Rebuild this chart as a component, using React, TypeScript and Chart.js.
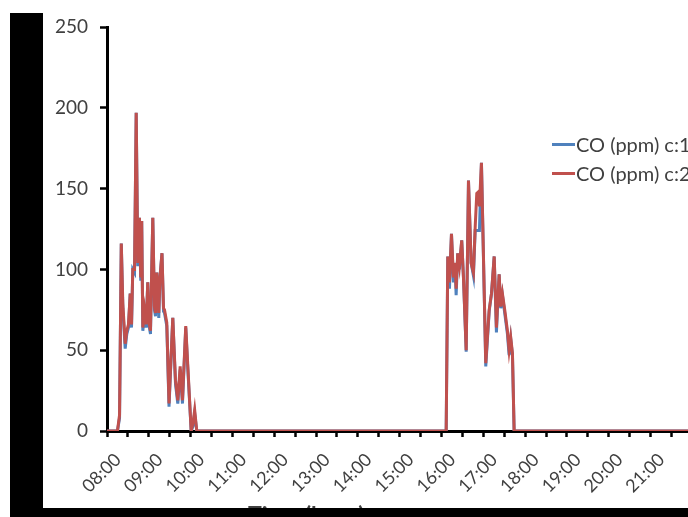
import React, { useEffect, useRef } from "react";
import { Chart, registerables } from "chart.js";

Chart.register(...registerables);

// minutes after 08:00
const minutesAfter8: number[] = [
  0, 15, 18, 20.5, 22.7, 26.1, 28.4, 30.8, 33.3, 35.2, 37, 39.5, 41.9, 44.2, 46.6, 48.4, 49.8,
  51.4, 53.8, 56.2, 58.5, 60, 62.4, 65.7, 68.1, 69.6, 71.4, 74.3, 76, 78.9, 81.1, 82.5, 85.8,
  89, 94.4, 98.3, 101.6, 105, 108.3, 113, 116, 120.8, 123.4, 125.8, 128.8,
  486.7, 489, 491.4, 494.3, 497.1, 499.3, 501, 503.3, 505.7, 509, 511.5, 515.4, 518.7, 522.5,
  525.8, 528.3, 530.6, 533, 534.4, 537.3, 543.5, 548.4, 551.7, 555.6, 558.8, 562.7, 565, 567.4,
  570.7, 574.6, 577, 579.3, 581.8, 584.2, 838,
];

const coC1: number[] = [
  0, 0, 8, 116, 76, 51, 60, 64, 85, 64, 100, 98, 197, 102, 132, 93, 130,
  62, 73, 64, 92, 66, 60, 132, 75, 71, 98, 70, 95, 110, 74, 73, 65,
  15, 70, 29, 17, 38, 17, 64, 38, 0, 3, 11, 0,
  0, 108, 88, 122, 92, 104, 84, 110, 100, 118, 95, 49, 155, 104,
  96, 124, 124, 124, 124, 166, 40, 74, 85, 108, 61, 97, 76, 84,
  73, 60, 47, 57, 47, 0, 0,
];

const coC2: number[] = [
  0, 0, 10, 116, 79, 54, 62, 66, 85, 66, 100, 100, 197, 104, 132, 95, 130,
  64, 75, 66, 92, 68, 62, 132, 77, 73, 98, 73, 95, 110, 76, 75, 67,
  17, 70, 31, 19, 40, 19, 65, 40, 0, 5, 13, 0,
  0, 108, 92, 122, 95, 104, 88, 110, 102, 118, 95, 50, 155, 104,
  98, 126, 147, 148, 139, 166, 42, 75, 85, 108, 64, 97, 77, 85,
  75, 62, 50, 58, 48, 0, 0,
];

const seriesNames: string[] = ["CO (ppm) c:1", "CO (ppm) c:2"];
const seriesColors: string[] = ["#4F81BD", "#C0504D"];
const yTicks: number[] = [0, 50, 100, 150, 200, 250];
const xTitle = "Time (hour)";

const START_MIN = 480; // 08:00
const END_MIN = 1318; // 21:58

function fmt(v: number): string {
  const h = Math.floor(v / 60);
  const m = Math.round(v - h * 60);
  return String(h).padStart(2, "0") + ":" + String(m).padStart(2, "0");
}

const FONT = "Lato, 'Open Sans', sans-serif";

export default function App() {
  const ref = useRef<HTMLCanvasElement | null>(null);

  useEffect(() => {
    if (!ref.current) return;
    const pts = (vals: number[]) =>
      minutesAfter8.map((m, i) => ({ x: START_MIN + m, y: vals[i] }));
    const chart = new Chart(ref.current, {
      type: "line",
      data: {
        datasets: [
          {
            label: seriesNames[0],
            data: pts(coC1),
            borderColor: seriesColors[0],
            backgroundColor: seriesColors[0],
            borderWidth: 3,
            pointRadius: 0,
            tension: 0,
            order: 2,
          },
          {
            label: seriesNames[1],
            data: pts(coC2),
            borderColor: seriesColors[1],
            backgroundColor: seriesColors[1],
            borderWidth: 3,
            pointRadius: 0,
            tension: 0,
            order: 1,
          },
        ],
      },
      options: {
        animation: false,
        responsive: false,
        devicePixelRatio: 1,
        layout: { padding: { top: 27, left: 0, right: 10, bottom: 0 } },
        plugins: { legend: { display: false }, tooltip: { enabled: false } },
        scales: {
          x: {
            type: "linear",
            min: START_MIN,
            max: END_MIN,
            afterFit: (s: any) => {
              s.height = 86;
            },
            afterBuildTicks: (s: any) => {
              const t = [];
              for (let v = START_MIN; v <= END_MIN; v += 30) t.push({ value: v });
              s.ticks = t;
            },
            ticks: {
              autoSkip: false,
              maxRotation: 45,
              minRotation: 45,
              color: "#404040",
              font: { family: FONT, size: 18 },
              padding: 12,
              labelOffset: 11,
              callback: (v: any) => (Number(v) % 60 === 0 ? fmt(Number(v)) : ""),
            },
            grid: {
              drawOnChartArea: false,
              drawTicks: true,
              tickLength: 6,
              tickWidth: 2.5,
              tickColor: "#000",
            },
            border: { display: true, color: "#000", width: 3 },
          },
          y: {
            min: 0,
            max: 250,
            afterFit: (s: any) => {
              s.width = 107;
            },
            afterBuildTicks: (s: any) => {
              s.ticks = yTicks.map((v) => ({ value: v }));
            },
            ticks: {
              color: "#404040",
              font: { family: FONT, size: 19 },
              padding: 12,
            },
            grid: {
              drawOnChartArea: false,
              drawTicks: true,
              tickLength: 7,
              tickWidth: 2.5,
              tickColor: "#000",
            },
            border: { display: true, color: "#000", width: 3 },
          },
        },
      },
    });
    return () => chart.destroy();
  }, []);

  return (
    <div
      style={{
        position: "fixed",
        left: 0,
        top: 0,
        width: 688,
        height: 517,
        overflow: "hidden",
        background: "#fff",
      }}
    >
      <canvas
        ref={ref}
        width={701}
        height={517}
        style={{ position: "absolute", left: 0, top: 0, display: "block" }}
      />
      {seriesNames.map((name, i) => (
        <div
          key={name}
          style={{
            position: "absolute",
            left: 552,
            top: 131 + i * 29,
            height: 26,
            display: "flex",
            alignItems: "center",
            whiteSpace: "nowrap",
            fontFamily: FONT,
            fontSize: 20,
            color: "#404040",
          }}
        >
          <span
            style={{
              display: "inline-block",
              width: 23,
              height: 3,
              background: seriesColors[i],
              marginRight: 1,
            }}
          />
          <span>{name}</span>
        </div>
      ))}
      <div
        style={{
          position: "absolute",
          left: 248,
          top: 500,
          fontFamily: FONT,
          fontSize: 23,
          fontWeight: "bold",
          color: "#404040",
          whiteSpace: "nowrap",
        }}
      >
        {xTitle}
      </div>
      <div style={{ position: "absolute", left: 10, top: 13, width: 33, height: 504, background: "#000" }} />
      <div style={{ position: "absolute", left: 10, top: 508, width: 678, height: 9, background: "#000" }} />
    </div>
  );
}
